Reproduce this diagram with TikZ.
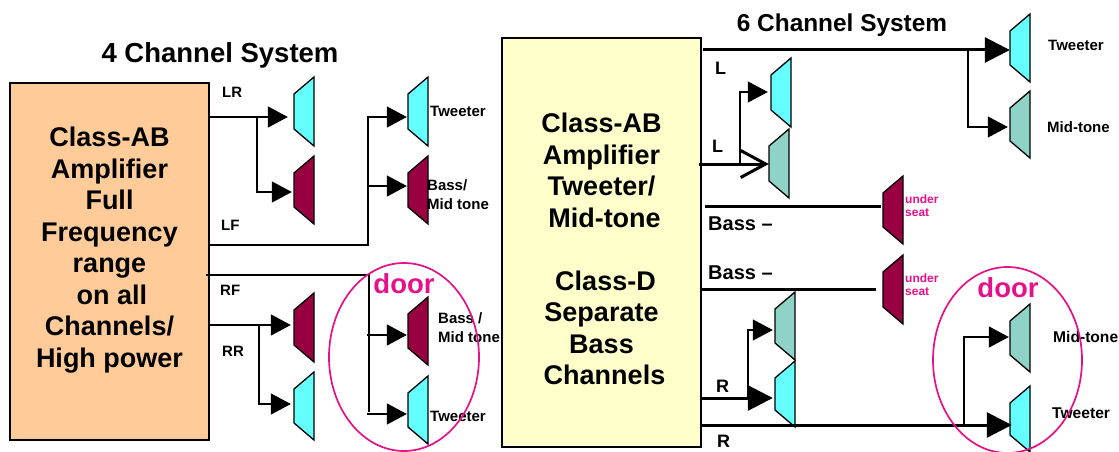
\documentclass[tikz,border=0pt]{standalone}
\usepackage{fontspec}
\setmainfont{Liberation Sans}
\usetikzlibrary{arrows.meta,shapes.geometric}
\definecolor{spkcyan}{HTML}{66FFFF}
\definecolor{spkmaroon}{HTML}{990042}
\definecolor{spkteal}{HTML}{8FD3C6}
\definecolor{doorpink}{HTML}{E6108A}
\definecolor{ampab}{HTML}{FFCC99}
\definecolor{ampd}{HTML}{FFFFCC}
\newcommand{\spk}[5]{%
  \node[inner sep=0,minimum width=20pt,minimum height={(#4-#3)*1pt}] (#1) at ({#2+10},{(#3+#4)/2}) {};
  \draw[spkline,fill=#5] ({#2+20},#3) -- ({#2+20},#4) -- (#2,{#4-17}) -- (#2,{#3+17}) -- cycle;}
\tikzset{
  spkline/.style={line width=1.3pt,line join=miter,draw=black},
  ampbox/.style={draw=black,line width=1.4pt,inner sep=0},
  amptext/.style={inner sep=0,align=center,font=\fontsize{27}{31.5}\selectfont\bfseries},
  wire/.style={line width=1.5pt,draw=black},
  thinwire/.style={line width=1.1pt,draw=black},
  fatwire/.style={line width=3pt,draw=black},
  tipS/.style={-{Triangle[length=20pt,width=21pt]}},
  tipL/.style={-{Triangle[length=25pt,width=25pt]}},
  tipO/.style={-{Straight Barb[length=25pt,width=27pt,line width=3pt]}},
  lab/.style={anchor=west,inner sep=0,font=\fontsize{15}{15}\selectfont\bfseries},
  labw/.style={lab,font=\fontsize{15.6}{15.6}\selectfont\bfseries},
  chan/.style={anchor=west,inner sep=0,font=\fontsize{18}{18}\selectfont\bfseries},
  bassl/.style={anchor=west,inner sep=0,font=\fontsize{20}{20}\selectfont\bfseries},
  seat/.style={anchor=west,inner sep=0,text=doorpink,font=\fontsize{12}{12}\selectfont\bfseries},
  doorl/.style={inner sep=0,text=doorpink,font=\fontsize{27.5}{27.5}\selectfont\bfseries},
  doorring/.style={ellipse,draw=doorpink,line width=1.7pt,inner sep=0},
}
\begin{document}
\begin{tikzpicture}[x=1pt,y=-1pt]
\useasboundingbox (0,0) rectangle (1119,452);
% amplifiers
\node[ampbox,fill=ampab,minimum width=199pt,minimum height=357pt] (ampL) at (109.5,261.5) {};
\node[ampbox,fill=ampd,minimum width=199pt,minimum height=409pt] (ampR) at (601.5,242.5) {};
\node[amptext] (ampLt) at (109.5,250)
  {Class-AB\\Amplifier\\Full\\Frequency\\range\\\hspace*{5pt}on all\\Channels/\\High power};
\node[amptext] (ampRt) at (601.5,249)
  {Class-AB\\Amplifier\\Tweeter/\\\hspace*{6pt}Mid-tone\\\mbox{}\\\hspace*{8pt}Class-D\\Separate\\Bass\\\hspace*{6pt}Channels};
% titles
\node[inner sep=0,font=\fontsize{27.5}{27.5}\selectfont\bfseries] (t4) at (220,55) {4 Channel System};
\node[inner sep=0,font=\fontsize{24.4}{24.4}\selectfont\bfseries] (t6) at (842,25) {6 Channel System};
% speakers, 4 channel
\spk{a1}{294}{77}{146}{spkcyan}
\spk{a2}{294}{156}{224}{spkmaroon}
\spk{b1}{408}{77}{146}{spkcyan}
\spk{b2}{408}{156}{224}{spkmaroon}
\spk{c1}{294}{293}{362}{spkmaroon}
\spk{c2}{294}{372}{440}{spkcyan}
\spk{d1}{408}{297}{365}{spkmaroon}
\spk{d2}{408}{376}{444}{spkcyan}
% speakers, 6 channel
\spk{e1}{1010}{14}{82}{spkcyan}
\spk{e2}{1010}{91}{158}{spkteal}
\spk{f1}{771}{58}{127}{spkcyan}
\spk{f2}{769}{129}{198}{spkteal}
\spk{g1}{883}{176}{244}{spkmaroon}
\spk{g2}{883}{255}{324}{spkmaroon}
\spk{h1}{775}{292}{360}{spkteal}
\spk{h2}{775}{361}{427}{spkcyan}
\spk{i1}{1010}{304}{372}{spkteal}
\spk{i2}{1010}{386}{452}{spkcyan}
% junctions
\coordinate (jLR) at (257,117);
\coordinate (jLF) at (368,186);
\coordinate (jRR) at (259,325);
\coordinate (jRF) at (369,335);
\coordinate (jT) at (968,50);
\coordinate (jL) at (740,164);
\coordinate (jR) at (748,398);
\coordinate (jB) at (964,425);
% 4 channel wires
\draw[wire,tipS,shorten >=6pt] (ampL.east |- jLR) -- (a1.west |- jLR);
\draw[wire,tipS,shorten >=2pt] (jLR) |- (a2.west |- 0,192);
\draw[wire,tipS,shorten >=1pt] (ampL.east |- 0,245) -| (jLF) |- (b1.west |- 0,117);
\draw[wire,tipS,shorten >=1pt] (jLF) -- (b2.west |- jLF);
\draw[wire,tipS,shorten >=3pt] (ampL.east |- jRR) -- (c1.west |- jRR);
\draw[wire,tipS,shorten >=3pt] (jRR) |- (c2.west |- 0,404);
\draw[wire] (206,275) -| (369,412);
\draw[wire,tipS,shorten >=1pt] (367,335) -- (d1.west |- jRF);
\draw[wire,tipS,shorten >=1pt] (367,414) -- (d2.west |- 0,414);
% 6 channel wires
\draw[fatwire,tipL] (703,50) -- (e1.west |- jT);
\draw[thinwire,tipS,shorten >=2pt] (jT) |- (e2.west |- 0,127);
\draw[thinwire,tipS,shorten >=3pt] (jL) |- (f1.west |- 0,92);
\draw[fatwire,tipO] (699,164) -- (f2.west |- jL);
\draw[fatwire] (705,206) -- (881,206);
\draw[fatwire] (700,289) -- (876,289);
\draw[fatwire,tipL,shorten >=2pt] (700,398) -- (h2.west |- jR);
\draw[thinwire,tipS,shorten >=2pt] (jR) |- (h1.west |- 0,330);
\draw[fatwire,tipL,shorten >=-2pt] (700,425) -- (i2.west |- jB);
\draw[wire,tipS,shorten >=1pt] (jB) |- (i1.west |- 0,337);
% labels 4 channel
\node[lab] (lLR) at (222,92) {LR};
\node[lab] (lLF) at (221,225) {LF};
\node[lab] (lRF) at (220,290) {RF};
\node[lab] (lRR) at (222,351) {RR};
\node[lab] (tw1) at (430,111) {Tweeter};
\node[lab] (bm1a) at (427,185) {Bass/};
\node[lab] (bm1b) at (427,204) {Mid tone};
\node[lab] (bm2a) at (438,318) {Bass /};
\node[lab] (bm2b) at (438,337) {Mid tone};
\node[lab] (tw2) at (430,416) {Tweeter};
% labels 6 channel
\node[lab] (tw3) at (1048,45) {Tweeter};
\node[lab] (mt1) at (1047,127) {Mid-tone};
\node[labw] (mt2) at (1053,337) {Mid-tone};
\node[labw] (tw4) at (1052,413) {Tweeter};
\node[chan] (lL1) at (715,68) {L};
\node[chan] (lL2) at (712,146) {L};
\node[chan] (lR1) at (716,386) {R};
\node[chan] (lR2) at (717,441) {R};
\node[bassl] (bs1) at (708,224) {Bass –};
\node[bassl] (bs2) at (708,273) {Bass –};
\node[seat] (us1) at (905,199) {under};
\node[seat] (ss1) at (905,213) {seat};
\node[seat] (us2) at (905,278) {under};
\node[seat] (ss2) at (905,292) {seat};
% door
\node[doorring,minimum width=150pt,minimum height=188pt] (r1) at (404,357) {};
\node[doorring,minimum width=149pt,minimum height=186pt] (r2) at (1007.5,360) {};
\node[doorl] (d1t) at (404,284) {door};
\node[doorl] (d2t) at (1008,288) {door};
\end{tikzpicture}
\end{document}
